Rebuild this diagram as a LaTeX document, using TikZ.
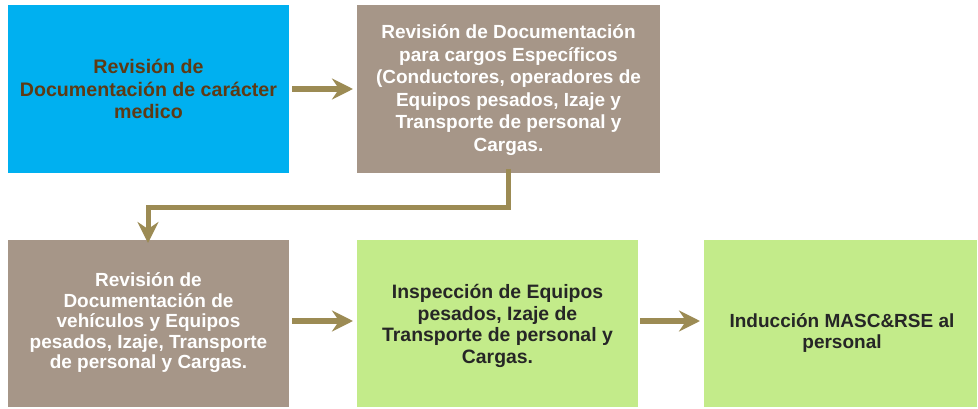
\documentclass[tikz,border=0pt]{standalone}
\usepackage{fontspec}
\setmainfont{Liberation Sans}
\usetikzlibrary{arrows.meta}
\definecolor{cblue}{HTML}{00B0F0}
\definecolor{ctaupe}{HTML}{A69688}
\definecolor{cgreen}{HTML}{C3EB8A}
\definecolor{carrow}{HTML}{9C8B54}
\definecolor{cbrown}{HTML}{5E3A14}
\definecolor{cdark}{HTML}{262626}
\tikzset{
  box/.style={inner sep=0pt, outer sep=0pt, draw=none},
  txt/.style={align=center, font=\fontsize{19}{22.5}\selectfont\bfseries, inner sep=0pt},
  conn/.style={draw=carrow, line width=6pt, -{Stealth[length=21pt,width=21pt,inset=7pt]}},
  elbow/.style={draw=carrow, line width=5pt, -{Stealth[length=21pt,width=21pt,inset=7pt]}}
}
\begin{document}
\begin{tikzpicture}[x=1pt,y=-1pt]
\useasboundingbox (0,0) rectangle (978,409);
\node[box, fill=cblue, minimum width=281pt, minimum height=168pt] (b1) at (148.5,89) {};
\node[box, fill=ctaupe, minimum width=303pt, minimum height=168pt] (b2) at (508.5,89) {};
\node[box, fill=ctaupe, minimum width=281pt, minimum height=167pt] (b3) at (148.5,323.5) {};
\node[box, fill=cgreen, minimum width=281pt, minimum height=167pt] (b4) at (497.5,323.5) {};
\node[box, fill=cgreen, minimum width=273pt, minimum height=167pt] (b5) at (840.5,323.5) {};

\node[txt, text=cbrown, font=\fontsize{19.6}{22.5}\selectfont\bfseries] (t1) at (148.5,89) {Revisión de\\Documentación de carácter\\medico};
\node[txt, text=white] (t2) at (508.5,90) {Revisión de Documentación\\para cargos Específicos\\(Conductores, operadores de\\Equipos pesados, Izaje y\\Transporte de personal y\\Cargas.};
\node[txt, text=white, font=\fontsize{19}{20.5}\selectfont\bfseries] (t3) at (148.5,323) {Revisión de\\Documentación de\\vehículos y Equipos\\pesados, Izaje, Transporte\\de personal y Cargas.};
\node[txt, text=cdark, font=\fontsize{19.4}{21.7}\selectfont\bfseries] (t4) at (497.5,326) {Inspección de Equipos\\pesados, Izaje de\\Transporte de personal y\\Cargas.};
\node[txt, text=cdark, font=\fontsize{19}{21.7}\selectfont\bfseries] (t5) at (842,333) {Inducción MASC\&RSE al\\personal};

\coordinate (e1) at (508,208);
\coordinate (e2) at (148,208);
\draw[conn] ([xshift=3pt]b1.east) -- ([xshift=-4pt]b2.west |- b1.east);
\draw[elbow] ([yshift=4pt]b2.south -| e1) -- (e1) -- (e2) -- ([yshift=-3pt]b3.north -| e2);
\draw[conn] ([xshift=3pt,yshift=2.5pt]b3.east) -- ([xshift=-4pt,yshift=2.5pt]b4.west);
\draw[conn] ([xshift=2pt,yshift=2.5pt]b4.east) -- ([xshift=-4pt,yshift=2.5pt]b5.west);
\end{tikzpicture}
\end{document}
